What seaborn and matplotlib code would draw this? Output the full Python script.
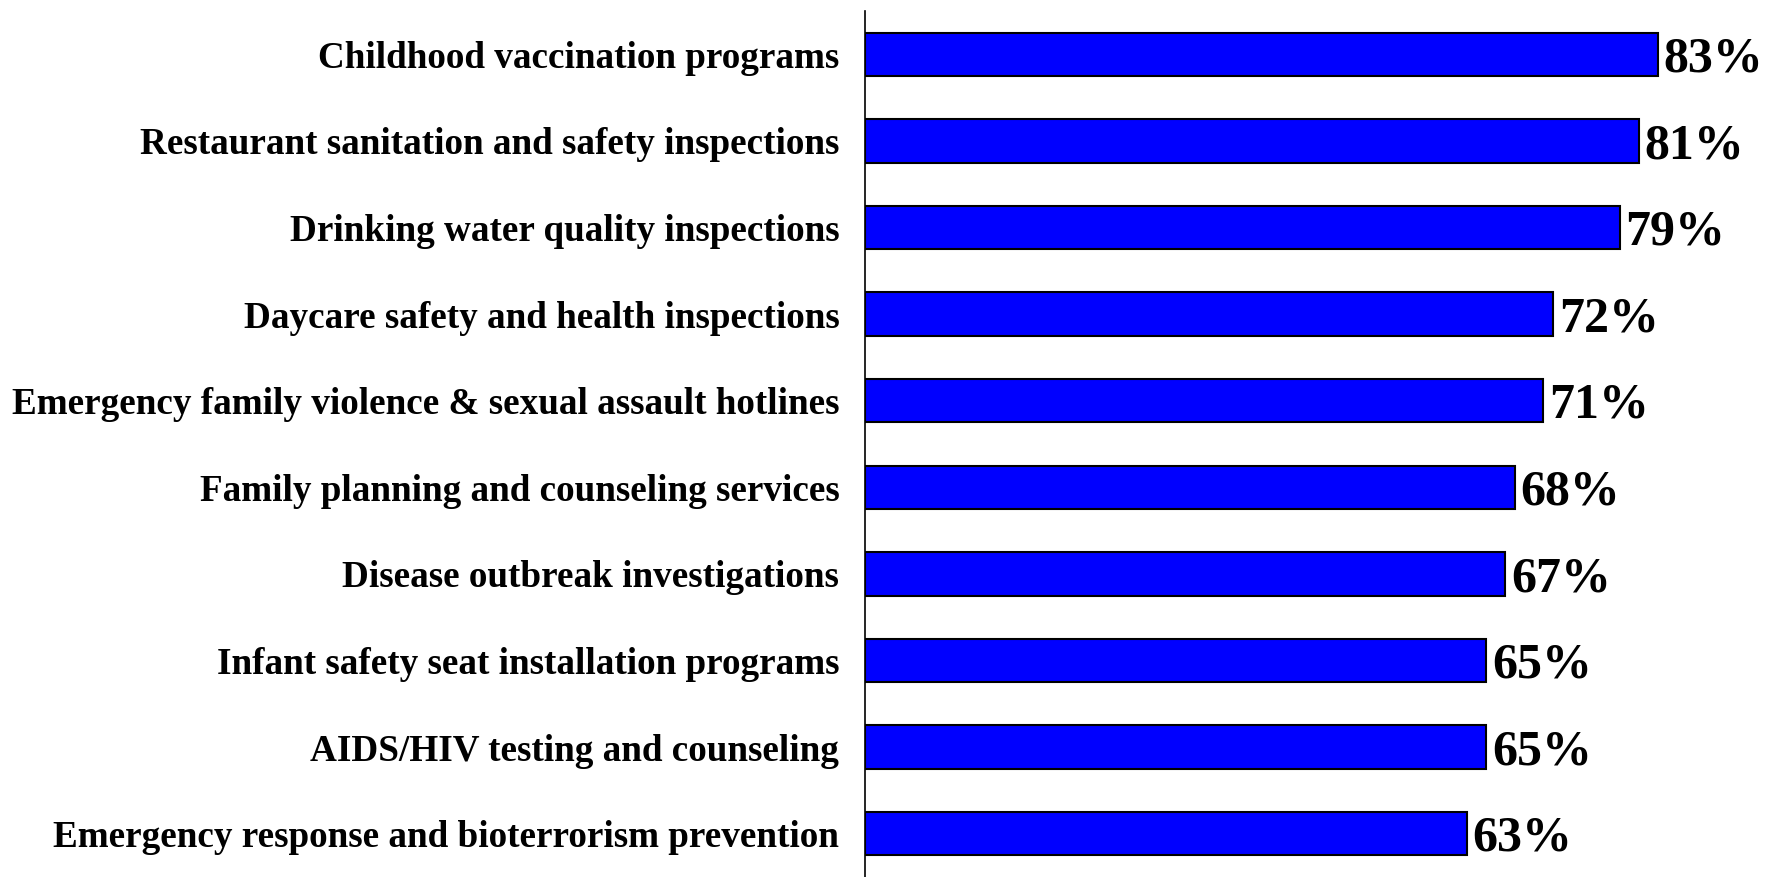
import matplotlib
matplotlib.use("Agg")
import matplotlib.pyplot as plt
import seaborn as sns
import pandas as pd

categories = [
    "Childhood vaccination programs",
    "Restaurant sanitation and safety inspections",
    "Drinking water quality inspections",
    "Daycare safety and health inspections",
    "Emergency family violence & sexual assault hotlines",
    "Family planning and counseling services",
    "Disease outbreak investigations",
    "Infant safety seat installation programs",
    "AIDS/HIV testing and counseling",
    "Emergency response and bioterrorism prevention",
]
values = [83, 81, 79, 72, 71, 68, 67, 65, 65, 63]

sns.set_theme(style="white")
plt.rcParams["font.family"] = ["Liberation Serif", "DejaVu Serif"]

df = pd.DataFrame({"category": categories, "value": values})

fig = plt.figure(figsize=(17.66, 8.77), dpi=100)
ax = fig.add_axes([865 / 1766, 0.0, 1 - 865 / 1766, 1 - 11 / 877])

sns.barplot(data=df, y="category", x="value", orient="h", color="#0000FF",
            saturation=1, edgecolor="black", linewidth=1.5, width=0.5, ax=ax)

ax.set_xlim(0, 94.3)
ax.set_ylim(9.5, -0.5)
ax.set_xlabel("")
ax.set_ylabel("")
ax.set_xticks([])
ax.tick_params(axis="y", length=0, pad=18.5)
for lab in ax.get_yticklabels():
    lab.set_fontsize(26.7)
    lab.set_fontweight("bold")
    lab.set_color("black")

for sp in ["top", "right", "bottom"]:
    ax.spines[sp].set_visible(False)
ax.spines["left"].set_color("black")
ax.spines["left"].set_linewidth(1.2)

for i, v in enumerate(values):
    ax.text(v + 0.6, i + 0.06, f"{v}%", va="center", ha="left",
            fontsize=36, fontweight="bold", color="black")

fig.savefig("out.png", dpi=100)
